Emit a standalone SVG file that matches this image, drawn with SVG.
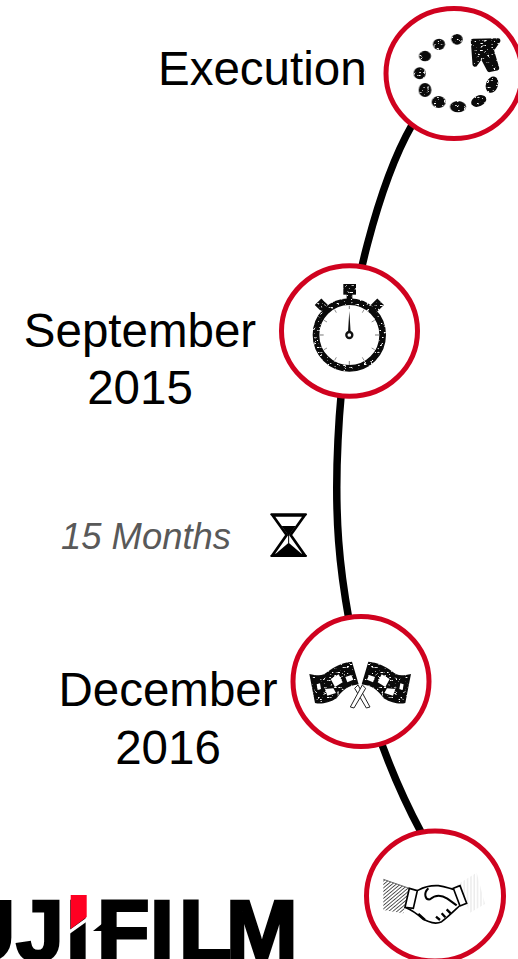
<svg xmlns="http://www.w3.org/2000/svg" width="518" height="959" viewBox="0 0 518 959">
<defs>
<style>
.ring{fill:#fff;stroke:#d0021f;stroke-width:5}
.lb{font-family:"Liberation Sans",Arial,sans-serif;font-size:47.5px;fill:#000}
.ink{fill:#0a0a0a}
.tick{stroke:#777;stroke-width:3;fill:none}
</style>
<filter id="sk" x="-10%" y="-10%" width="120%" height="120%" color-interpolation-filters="sRGB">
<feTurbulence type="fractalNoise" baseFrequency="0.1 0.2" numOctaves="2" seed="4" result="n"/>
<feColorMatrix in="n" type="matrix" values="0 0 0 0 1 0 0 0 0 1 0 0 0 0 1 0 0 0 9 -5.7" result="w"/>
<feComposite in="w" in2="SourceAlpha" operator="in" result="f"/>
<feMerge><feMergeNode in="SourceGraphic"/><feMergeNode in="f"/></feMerge>
</filter>
<pattern id="hatch" width="8" height="8" patternUnits="userSpaceOnUse" patternTransform="rotate(-40)">
<rect width="8" height="8" fill="#fff"/><rect width="8" height="2.4" fill="#333"/>
</pattern>
<pattern id="stip" width="10" height="10" patternUnits="userSpaceOnUse">
<rect width="10" height="10" fill="#fff"/><rect x="2" width="1.2" height="10" fill="#bbb"/>
</pattern>
<g id="flag">
<path d="M234 240L270 306L259 309L224 250Z" fill="#fff" stroke="#222" stroke-width="3"/>
<g filter="url(#sk)"><path class="ink" d="M88 207C105 210 118 214 132 208C150 196 170 175 216 170L236 238C205 242 188 255 170 280C145 296 120 298 105 294Z"/></g>
<path d="M152 222L176 208L188 232L165 246ZM135 252L160 250L168 264L142 272ZM110 238L120 235L123 252L113 255ZM196 216L214 210L220 224L202 232Z" fill="#fff"/>
</g>
</defs>
<g id="connectors">
<path d="M412 125C385 172 345 290 338 440C334 520 340 570 349 620C357 680 385 765 421 832" fill="none" stroke="#000" stroke-width="7.5"/>
</g>
<g id="node-execution">
<ellipse class="ring" cx="454" cy="73.5" rx="68" ry="65"/>
<text class="lb" x="158" y="85">Execution</text>
<g transform="translate(370 0) scale(.3333)" filter="url(#sk)">
<g class="ink">
<ellipse cx="261" cy="118" rx="17" ry="16"/>
<ellipse cx="207" cy="133" rx="18" ry="17"/>
<ellipse cx="165" cy="168" rx="18" ry="16"/>
<ellipse cx="149" cy="220" rx="18" ry="18"/>
<ellipse cx="165" cy="270" rx="19" ry="21"/>
<ellipse cx="206" cy="306" rx="21" ry="18"/>
<ellipse cx="264" cy="320" rx="24" ry="17"/>
<ellipse cx="326" cy="303" rx="24" ry="16" transform="rotate(-25 326 303)"/>
<ellipse cx="366" cy="254" rx="25" ry="18" transform="rotate(-70 366 254)"/>
<path d="M310 124L384 122L364 150L380 204L358 209L335 165L315 193Z" stroke="#0a0a0a" stroke-width="15" stroke-linejoin="round"/>
</g>
</g>
</g>
<g id="node-september">
<ellipse class="ring" cx="349.5" cy="331" rx="68" ry="65.3"/>
<text class="lb" x="140" y="347" text-anchor="middle">September</text>
<text class="lb" x="140" y="404" text-anchor="middle">2015</text>
<g transform="translate(270 255) scale(.3333)">
<g filter="url(#sk)">
<circle cx="238" cy="240" r="100" fill="none" stroke="#0a0a0a" stroke-width="20"/>
<rect class="ink" x="220" y="87" width="38" height="32"/>
<rect class="ink" x="230" y="115" width="17" height="20"/>
<rect class="ink" x="140" y="136" width="28" height="28" transform="rotate(-45 154 150)"/>
<rect class="ink" x="308" y="136" width="28" height="28" transform="rotate(45 322 150)"/>
<path d="M158 155L172 170M318 155L304 170" stroke="#0a0a0a" stroke-width="12"/>
</g>
<g class="tick">
<path d="M238 152V162M238 318V330M148 240H161M315 240H328"/>
<path d="M194 164L199 173M282 164L277 173M162 196L171 201M314 196L305 201M162 284L171 279M314 284L305 279M194 316L199 307M282 316L277 307" stroke-width="2" stroke="#555"/>
</g>
<path d="M238 168L242 232H234Z" fill="#111"/>
<circle cx="238" cy="240" r="9" fill="#fff" stroke="#111" stroke-width="7"/>
</g>
</g>
<g id="node-duration">
<text x="61" y="549" font-family="'Liberation Sans',Arial,sans-serif" font-style="italic" font-size="36.4" fill="#595959">15 Months</text>
<g transform="translate(50 500) scale(.3333)">
<path d="M668 46H764L722 105L764 165H668L710 105Z" fill="#fff" stroke="#000" stroke-width="8"/>
<path d="M695 78H737L716 108Z" fill="#000"/>
<path d="M716 128L760 166H672Z" fill="#000"/>
<path d="M716 105V130" stroke="#000" stroke-width="3"/>
<path d="M662 43H770M662 168H770" stroke="#000" stroke-width="6"/>
</g>
</g>
<g id="node-december">
<ellipse class="ring" cx="361" cy="681.5" rx="68" ry="65"/>
<text class="lb" x="168" y="706" text-anchor="middle">December</text>
<text class="lb" x="168" y="764" text-anchor="middle">2016</text>
<g transform="translate(280 605) scale(.3333)">
<use href="#flag"/>
<use href="#flag" transform="translate(481 0) scale(-1 1)"/>
</g>
</g>
<g id="node-handshake">
<ellipse class="ring" cx="435" cy="896" rx="68.5" ry="65"/>
<g transform="translate(360 820) scale(.3333)">
<path d="M70 178L148 205L130 280L70 270Z" fill="url(#hatch)"/>
<path d="M70 178L148 205" stroke="#222" stroke-width="2" fill="none"/>
<path d="M350 158L290 195L318 250L330 278L375 252Z" fill="url(#stip)"/>
<path d="M148 205L172 212L160 265L135 262Z" fill="#fff" stroke="#000" stroke-width="5"/>
<path d="M280 205L300 197L320 250L300 258Z" fill="#fff" stroke="#000" stroke-width="5"/>
<path d="M172 212C185 205 200 195 235 197C255 200 268 205 280 208M298 258C285 270 265 290 245 305C225 315 205 305 190 298C175 285 160 272 135 262" fill="none" stroke="#000" stroke-width="5"/>
<path d="M205 205C190 220 195 240 210 238C225 225 240 222 262 236L290 256" fill="none" stroke="#000" stroke-width="6"/>
<path d="M228 290L240 300M245 280L256 292M260 268L272 280M175 282L195 300" fill="none" stroke="#000" stroke-width="7"/>
</g>
</g>
<g id="logo">
<text y="960" font-family="'Liberation Sans',Arial,sans-serif" font-weight="700" font-size="86" stroke="#000" stroke-width="3" x="-112 -47 16 66 97 150 179 226" fill="#000">FUJIFILM</text>
<path d="M68 931L89 916V920L68 935Z" fill="#fff"/>
<path d="M70.7 895H86.7V917L70.7 929Z" fill="#ff0022"/>
<path d="M93 931L103 923V931Z" fill="#000"/>
</g>
</svg>
